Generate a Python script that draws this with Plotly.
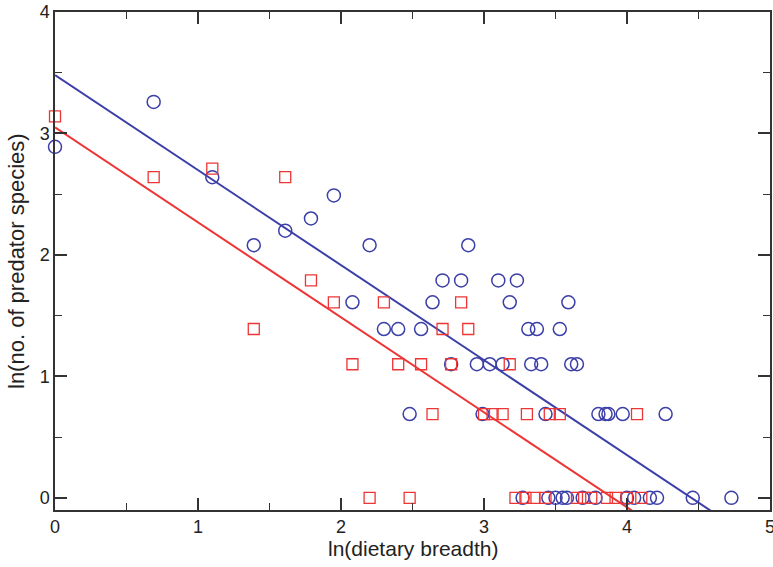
import numpy as np
import plotly.graph_objects as go

# Blue circles (series 1)
blue_x = [0.00, 0.69, 1.10, 1.39, 1.61, 1.79, 1.95, 2.08, 2.20, 2.30, 2.40, 2.48, 2.56,
          2.64, 2.71, 2.77, 2.84, 2.89, 2.95, 2.99, 3.04, 3.10, 3.13, 3.18, 3.23, 3.31,
          3.33, 3.37, 3.40, 3.43, 3.53, 3.59, 3.61, 3.65, 3.80, 3.85, 3.87, 3.97, 4.27,
          3.27, 3.45, 3.50, 3.55, 3.58, 3.69, 3.78, 4.00, 4.05, 4.16, 4.21, 4.46, 4.73]
blue_y = [2.89, 3.26, 2.64, 2.08, 2.20, 2.30, 2.49, 1.61, 2.08, 1.39, 1.39, 0.69, 1.39,
          1.61, 1.79, 1.10, 1.79, 2.08, 1.10, 0.69, 1.10, 1.79, 1.10, 1.61, 1.79, 1.39,
          1.10, 1.39, 1.10, 0.69, 1.39, 1.61, 1.10, 1.10, 0.69, 0.69, 0.69, 0.69, 0.69,
          0, 0, 0, 0, 0, 0, 0, 0, 0, 0, 0, 0, 0]

# Red squares (series 2)
red_x = [0.00, 0.69, 1.10, 1.39, 1.61, 1.79, 1.95, 2.08, 2.20, 2.30, 2.40, 2.48, 2.56,
         2.64, 2.71, 2.77, 2.84, 2.89, 3.00, 3.06, 3.13, 3.18, 3.30, 3.46, 3.53, 4.07,
         3.22, 3.29, 3.35, 3.43, 3.65, 3.70, 3.75, 3.86, 3.92, 4.00, 4.10]
red_y = [3.14, 2.64, 2.71, 1.39, 2.64, 1.79, 1.61, 1.10, 0.00, 1.61, 1.10, 0.00, 1.10,
         0.69, 1.39, 1.10, 1.61, 1.39, 0.69, 0.69, 0.69, 1.10, 0.69, 0.69, 0.69, 0.69,
         0, 0, 0, 0, 0, 0, 0, 0, 0, 0, 0]

# Fitted lines: (intercept, slope)
blue_fit = (3.48, -0.782)
red_fit = (3.05, -0.782)

x_ticks = [0, 1, 2, 3, 4, 5]
y_ticks = [0, 1, 2, 3, 4]

x_title = "ln(dietary breadth)"
y_title = "ln(no. of predator species)"

BLUE = "#3b3fa8"
RED = "#ee3535"

line_x = np.array([0.0, 5.0])

fig = go.Figure()
fig.add_trace(go.Scatter(x=line_x, y=blue_fit[0] + blue_fit[1] * line_x, mode="lines",
                         line=dict(color=BLUE, width=2), showlegend=False))
fig.add_trace(go.Scatter(x=line_x, y=red_fit[0] + red_fit[1] * line_x, mode="lines",
                         line=dict(color=RED, width=2), showlegend=False))
fig.add_trace(go.Scatter(x=blue_x, y=blue_y, mode="markers",
                         marker=dict(symbol="circle-open", size=13, color=BLUE,
                                     line=dict(width=1.5, color=BLUE)),
                         showlegend=False, cliponaxis=False))
fig.add_trace(go.Scatter(x=red_x, y=red_y, mode="markers",
                         marker=dict(symbol="square-open", size=11, color=RED,
                                     line=dict(width=1.3, color=RED)),
                         showlegend=False, cliponaxis=False))

axis_common = dict(
    showgrid=False, zeroline=False, showline=True, linecolor="#333333", linewidth=1.5,
    mirror="allticks", ticks="inside", ticklen=12, tickwidth=1.5, tickcolor="#333333",
    tickfont=dict(size=18, color="#222222"), automargin=False, ticklabeloverflow="allow",
)

fig.update_xaxes(range=[0, 5], tickvals=x_ticks, ticktext=[str(t) for t in x_ticks],
                 minor=dict(dtick=0.5, ticks="inside", ticklen=7, tickwidth=1.2,
                            tickcolor="#333333"),
                 **axis_common)
fig.update_yaxes(range=[-0.1, 4], tickvals=y_ticks, ticktext=[str(t) for t in y_ticks],
                 minor=dict(dtick=0.5, ticks="inside", ticklen=7, tickwidth=1.2,
                            tickcolor="#333333"),
                 **axis_common)

fig.add_annotation(text=x_title, xref="paper", yref="paper", x=0.5, y=0,
                   xanchor="center", yanchor="middle", yshift=-38, showarrow=False,
                   font=dict(size=21, color="#222222"))
fig.add_annotation(text=y_title, xref="paper", yref="paper", x=0, y=0.5,
                   xanchor="center", yanchor="middle", xshift=-39, textangle=-90,
                   showarrow=False, font=dict(size=22, color="#222222"))

fig.update_layout(
    width=773, height=567,
    margin=dict(l=55, r=3, t=12, b=57),
    plot_bgcolor="white", paper_bgcolor="white",
    font=dict(family="Liberation Sans, Arial, sans-serif"),
)

# remove the page's default 8px body margin so the figure fills the window
fig.write_html("out.html", config={"displayModeBar": False},
               post_script="document.body.style.margin='0';")
